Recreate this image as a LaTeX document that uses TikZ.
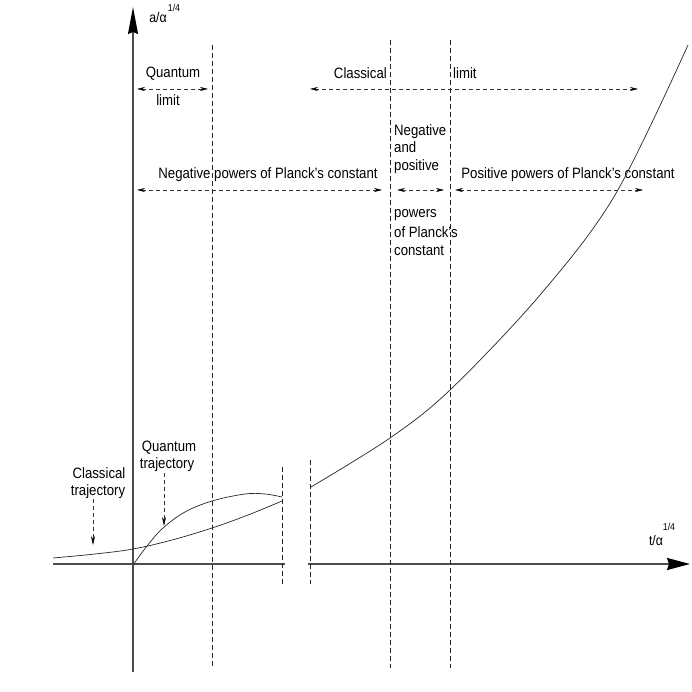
\documentclass[tikz,border=0pt]{standalone}
\usepackage{fontspec}
\setmainfont{Liberation Sans}[FakeStretch=0.88]
\usetikzlibrary{arrows.meta}
\begin{document}
\begin{tikzpicture}[x=1pt,y=-1pt,
  axis/.style={line width=1.5pt, draw=black!70},
  ytip/.style={-{Stealth[length=27pt,width=10pt,inset=2pt,black]}},
  xtip/.style={-{Stealth[length=23pt,width=12pt,inset=2pt,black]}},
  vdash/.style={line width=0.6pt, black!85, dash pattern=on 5pt off 3pt},
  span/.style={line width=0.6pt, black!80, dash pattern=on 4pt off 3pt,
    {Stealth[length=8pt,width=4pt,black]}-{Stealth[length=8pt,width=4pt,black]}},
  pointer/.style={line width=0.6pt, black!80, dash pattern=on 4pt off 3pt,
    -{Stealth[length=9pt,width=4pt,black]}},
  curve/.style={line width=0.7pt, black!85},
  lbl/.style={inner sep=0pt, font=\fontsize{15}{17}\selectfont},
  sup/.style={inner sep=0pt, font=\fontsize{10}{11}\selectfont}]
\useasboundingbox (0,0) rectangle (692,692);
% axes
\coordinate (ytop) at (133,7);
\coordinate (ybot) at (133,672);
\coordinate (xl) at (53,564);
\coordinate (xbl) at (285,564);
\coordinate (xbr) at (308,564);
\coordinate (xr) at (690,564);
\draw[axis] (xl) -- (xbl);
\draw[axis,xtip] (xbr) -- (xr);
\draw[axis,ytip] (ybot) -- (ytop);
\node[lbl, font=\fontsize{14}{15}\selectfont] (ylab) at (158,18) {a/α};
\node[sup] (ysup) at (174,8) {1/4};
\node[lbl, font=\fontsize{14}{15}\selectfont] (xlab) at (656,540) {t/α};
\node[sup] (xsup) at (669,527) {1/4};
% vertical dashed lines
\coordinate (v1t) at (212,45);  \coordinate (v1b) at (212,668);
\coordinate (v2t) at (390,40);  \coordinate (v2b) at (390,668);
\coordinate (v3t) at (450,40);  \coordinate (v3b) at (450,668);
\coordinate (b1t) at (282,467); \coordinate (b1b) at (282,584);
\coordinate (b2t) at (310,460); \coordinate (b2b) at (310,584);
\draw[vdash] (v1t) -- (v1b);
\draw[vdash] (v2t) -- (v2b);
\draw[vdash] (v3t) -- (v3b);
\draw[vdash] (b1t) -- (b1b);
\draw[vdash] (b2t) -- (b2b);
% quantum limit
\node[lbl, anchor=base] (qlim1) at (173,78) {Quantum};
\node[lbl, anchor=base] (qlim2) at (168,106) {limit};
\coordinate (qa) at (137,89); \coordinate (qb) at (208,89);
\draw[span] (qa) -- (qb);
% classical limit
\node[lbl, anchor=base east] (clim1) at (387,79) {Classical};
\node[lbl, anchor=base west] (clim2) at (453,79) {limit};
\coordinate (ca) at (310,89); \coordinate (cb) at (638,89);
\draw[span] (ca) -- (cb);
% negative powers
\node[lbl, anchor=base] (neg) at (268,179) {Negative powers of Planck's constant};
\coordinate (na) at (137,190); \coordinate (nb) at (382,190);
\draw[span] (na) -- (nb);
% middle
\node[lbl, anchor=base west] (m1) at (394,136) {Negative};
\node[lbl, anchor=base west] (m2) at (394,153) {and};
\node[lbl, anchor=base west] (m3) at (394,171) {positive};
\node[lbl, anchor=base west] (m4) at (394,218) {powers};
\node[lbl, anchor=base west] (m5) at (394,237) {of Planck's};
\node[lbl, anchor=base west] (m6) at (394,255) {constant};
\coordinate (ma) at (397,190); \coordinate (mb) at (444,190);
\draw[span] (ma) -- (mb);
% positive powers
\node[lbl, anchor=base] (pos) at (568,179) {Positive powers of Planck's constant};
\coordinate (pa) at (455,190); \coordinate (pb) at (643,190);
\draw[span] (pa) -- (pb);
% curves
\draw[curve] plot[smooth, tension=0.6] coordinates {(53,558) (95,554) (133,549) (172,540) (212,528) (248,515) (282,501)};
\draw[curve] plot[smooth, tension=0.55] coordinates {(311,487) (390,438) (450,390) (540,295) (615,195) (688,45)};
\draw[curve] plot[smooth, tension=0.6] coordinates {(133,565) (147,546) (163,528) (185,512) (212,501) (245,494) (265,494) (282,497)};
% trajectory labels
\node[lbl, anchor=base] (ct1) at (99,478) {Classical};
\node[lbl, anchor=base] (ct2) at (98,495) {trajectory};
\coordinate (cpa) at (93,499); \coordinate (cpb) at (93,545);
\draw[pointer] (cpa) -- (cpb);
\node[lbl, anchor=base] (qt1) at (169,451) {Quantum};
\node[lbl, anchor=base] (qt2) at (167,468) {trajectory};
\coordinate (qpa) at (164,473); \coordinate (qpb) at (164,526);
\draw[pointer] (qpa) -- (qpb);
\end{tikzpicture}
\end{document}
